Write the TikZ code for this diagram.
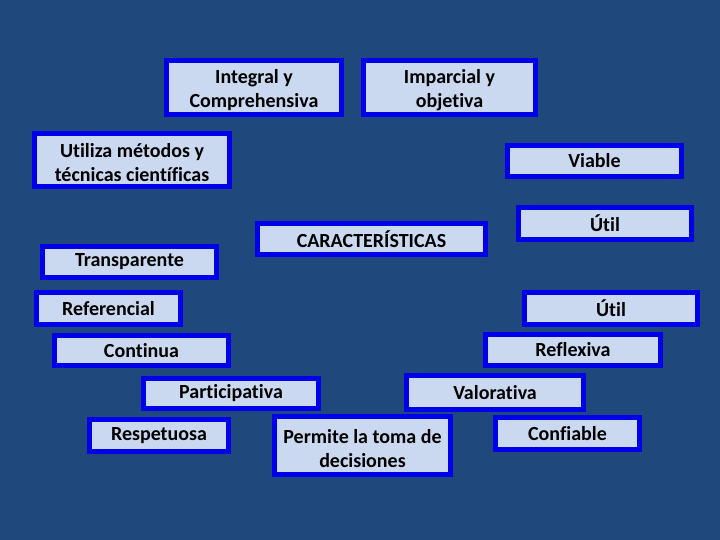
\documentclass[tikz,border=0pt]{standalone}
\usepackage{fontspec}
\setmainfont[Ligatures=NoCommon]{Carlito}
\definecolor{bgblue}{RGB}{31,73,125}
\definecolor{edgeblue}{RGB}{0,0,235}
\definecolor{fillblue}{RGB}{202,216,240}
\newcommand{\lowstrut}{\rule{0pt}{20pt}}
\begin{document}
\begin{tikzpicture}[x=1pt,y=-1pt,
  box/.style={draw=edgeblue, line width=5pt, fill=fillblue, inner sep=0pt,
    align=center, text=black, font=\fontsize{20}{24}\selectfont\bfseries}]
\fill[bgblue] (0,0) rectangle (720,540);
\useasboundingbox (0,0) rectangle (720,540);
\node[box, minimum width=175pt, minimum height=54pt] (integral) at (254,87.5) {\lowstrut Integral y\\Comprehensiva};
\node[box, minimum width=172pt, minimum height=54pt] (imparcial) at (449.5,87.5) {\lowstrut Imparcial y\\objetiva};
\node[box, minimum width=195pt, minimum height=53pt] (utiliza) at (132,160) {\lowstrut Utiliza métodos y\\técnicas científicas};
\node[box, minimum width=174pt, minimum height=31pt] (viable) at (594.5,161) {Viable};
\node[box, minimum width=173pt, minimum height=32pt] (utilA) at (605,223.5) {Útil};
\node[box, minimum width=228pt, minimum height=31pt] (caract) at (371.5,239) {CARACTERÍSTICAS};
\node[box, minimum width=174pt, minimum height=31pt] (transp) at (129.5,262) {Transparente};
\node[box, minimum width=144pt, minimum height=32pt] (refer) at (108.5,308.5) {Referencial};
\node[box, minimum width=173pt, minimum height=32pt] (utilB) at (611,308.5) {Útil};
\node[box, minimum width=175pt, minimum height=31pt] (reflex) at (573,350) {Reflexiva};
\node[box, minimum width=174pt, minimum height=30pt] (contin) at (141.5,350.5) {Continua};
\node[box, minimum width=175pt, minimum height=30pt] (partic) at (231,393.5) {Participativa};
\node[box, minimum width=177pt, minimum height=34pt] (valor) at (495,392.5) {Valorativa};
\node[box, minimum width=139pt, minimum height=32pt] (respet) at (159,435.5) {Respetuosa};
\node[box, minimum width=176pt, minimum height=58pt] (permite) at (362.5,445.5) {\lowstrut Permite la toma de\\decisiones};
\node[box, minimum width=144pt, minimum height=32pt] (confi) at (567.5,433.5) {Confiable};
\end{tikzpicture}
\end{document}
